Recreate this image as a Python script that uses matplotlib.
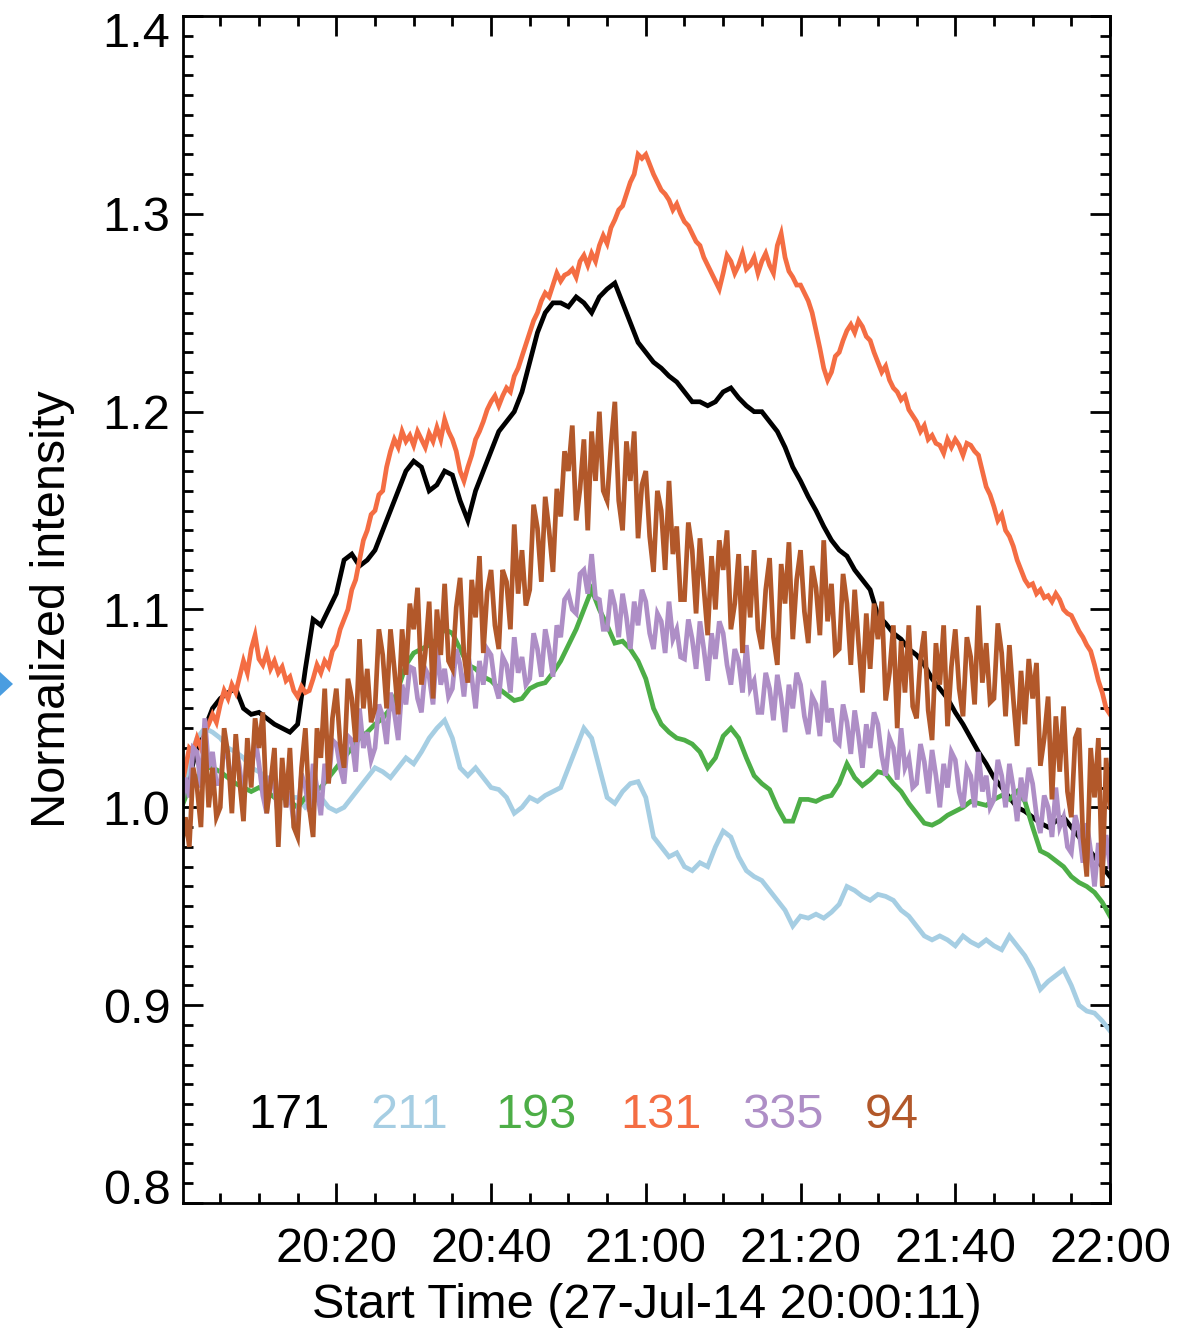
import numpy as np
import matplotlib
matplotlib.use("Agg")
import matplotlib.pyplot as plt
from matplotlib.ticker import MultipleLocator, FixedLocator, FormatStrFormatter
from matplotlib.patches import Polygon
from matplotlib.transforms import ScaledTranslation

plt.rcParams['font.family'] = ['Liberation Sans', 'DejaVu Sans']

# ---------------- data (minutes after 20:00) ----------------
t_1min = np.arange(0, 121, 1.0)
t_half = np.arange(0, 120.5, 0.5)

i171 = [1.0, 1.015, 1.03, 1.04, 1.05, 1.055, 1.058, 1.06, 1.05, 1.047, 1.048,
        1.045, 1.042, 1.04, 1.038, 1.042, 1.07, 1.095, 1.092, 1.10, 1.108,
        1.125, 1.128, 1.122, 1.125, 1.13, 1.14, 1.15, 1.16, 1.17, 1.175,
        1.172, 1.16, 1.163, 1.17, 1.168, 1.155, 1.145, 1.16, 1.17, 1.18,
        1.19, 1.195, 1.2, 1.21, 1.225, 1.24, 1.25, 1.255, 1.255, 1.253,
        1.258, 1.255, 1.25, 1.258, 1.262, 1.265, 1.255, 1.245, 1.235, 1.23,
        1.225, 1.222, 1.218, 1.215, 1.21, 1.205, 1.205, 1.203, 1.205, 1.21,
        1.212, 1.207, 1.203, 1.2, 1.2, 1.195, 1.19, 1.182, 1.172, 1.165,
        1.157, 1.15, 1.142, 1.135, 1.13, 1.127, 1.12, 1.115, 1.11, 1.097,
        1.093, 1.088, 1.085, 1.08, 1.077, 1.072, 1.065, 1.06, 1.055, 1.048,
        1.042, 1.035, 1.028, 1.022, 1.015, 1.01, 1.005, 1.0, 0.998, 0.995,
        0.992, 0.99, 0.993, 0.995, 0.99, 0.985, 0.98, 0.975, 0.97, 0.965]

i211 = [1.0, 1.025, 1.035, 1.04, 1.038, 1.035, 1.03, 1.028, 1.025, 1.02, 1.018,
        1.015, 1.01, 1.008, 1.005, 1.005, 1.0, 1.003, 1.005, 1.0, 0.998,
        1.0, 1.005, 1.01, 1.015, 1.02, 1.018, 1.015, 1.02, 1.025, 1.022,
        1.028, 1.035, 1.04, 1.044, 1.035, 1.02, 1.016, 1.02, 1.015, 1.01,
        1.009, 1.005, 0.997, 1.0, 1.005, 1.003, 1.006, 1.008, 1.01, 1.02,
        1.03, 1.04, 1.035, 1.02, 1.005, 1.002, 1.008, 1.012, 1.013, 1.005,
        0.985, 0.98, 0.975, 0.977, 0.97, 0.968, 0.972, 0.97, 0.98, 0.988,
        0.985, 0.975, 0.968, 0.965, 0.963, 0.958, 0.953, 0.948, 0.94, 0.945,
        0.944, 0.946, 0.944, 0.947, 0.951, 0.96, 0.958, 0.955, 0.953, 0.956,
        0.955, 0.953, 0.948, 0.945, 0.94, 0.935, 0.933, 0.935, 0.933, 0.93,
        0.935, 0.932, 0.93, 0.933, 0.93, 0.928, 0.935, 0.93, 0.925, 0.918,
        0.908, 0.912, 0.915, 0.918, 0.91, 0.9, 0.897, 0.896, 0.892, 0.887]

i193 = [1.0, 1.01, 1.015, 1.02, 1.02, 1.018, 1.015, 1.012, 1.01, 1.008, 1.01,
        1.008, 1.005, 1.005, 1.003, 1.0, 1.005, 1.008, 1.01, 1.015, 1.02,
        1.025, 1.03, 1.035, 1.038, 1.042, 1.045, 1.05, 1.06, 1.072, 1.078,
        1.08, 1.082, 1.085, 1.09, 1.088, 1.08, 1.072, 1.07, 1.066, 1.064,
        1.06, 1.057, 1.054, 1.055, 1.06, 1.062, 1.063, 1.068, 1.074, 1.082,
        1.09, 1.1, 1.11, 1.1, 1.092, 1.083, 1.084, 1.08, 1.074, 1.065,
        1.05, 1.042, 1.038, 1.035, 1.034, 1.032, 1.028, 1.02, 1.025, 1.036,
        1.04, 1.035, 1.025, 1.016, 1.012, 1.009, 1.0, 0.993, 0.993, 1.004,
        1.004, 1.003, 1.005, 1.006, 1.012, 1.022, 1.015, 1.011, 1.014, 1.018,
        1.017, 1.012, 1.008, 1.002, 0.997, 0.992, 0.991, 0.993, 0.996, 0.998,
        1.0, 1.003, 1.002, 1.001, 1.004, 1.006, 1.004, 1.008, 1.003, 0.99,
        0.978, 0.976, 0.973, 0.97, 0.965, 0.962, 0.96, 0.957, 0.952, 0.945]

i131 = [1.01, 1.02, 1.03, 1.028, 1.035, 1.03, 1.038, 1.042, 1.047, 1.043,
        1.052, 1.059, 1.055, 1.062, 1.058, 1.066, 1.074, 1.068, 1.08, 1.087,
        1.075, 1.072, 1.078, 1.07, 1.074, 1.068, 1.071, 1.064, 1.066, 1.059,
        1.056, 1.061, 1.058, 1.059, 1.065, 1.072, 1.068, 1.074, 1.071, 1.079,
        1.082, 1.09, 1.095, 1.1, 1.11, 1.115, 1.125, 1.135, 1.14, 1.148,
        1.15, 1.158, 1.16, 1.172, 1.18, 1.186, 1.182, 1.19, 1.185, 1.188,
        1.183, 1.19, 1.186, 1.182, 1.189, 1.185, 1.192, 1.186, 1.196, 1.19,
        1.186, 1.18, 1.17, 1.165, 1.172, 1.178, 1.186, 1.19, 1.195, 1.201,
        1.205, 1.208, 1.203, 1.208, 1.212, 1.21, 1.218, 1.222, 1.228, 1.234,
        1.24, 1.246, 1.25, 1.256, 1.26, 1.258, 1.264, 1.27, 1.266, 1.269,
        1.27, 1.272, 1.268, 1.276, 1.279, 1.274, 1.28, 1.276, 1.284, 1.289,
        1.285, 1.293, 1.297, 1.302, 1.304, 1.31, 1.316, 1.32, 1.33, 1.328,
        1.33, 1.325, 1.32, 1.316, 1.312, 1.31, 1.307, 1.302, 1.305, 1.3,
        1.296, 1.294, 1.29, 1.286, 1.284, 1.278, 1.274, 1.27, 1.266, 1.262,
        1.27, 1.279, 1.276, 1.27, 1.274, 1.28, 1.272, 1.274, 1.278, 1.27,
        1.276, 1.28, 1.274, 1.27, 1.284, 1.29, 1.278, 1.271, 1.268, 1.264,
        1.264, 1.26, 1.256, 1.25, 1.241, 1.232, 1.222, 1.216, 1.22, 1.228,
        1.23, 1.236, 1.241, 1.244, 1.24, 1.246, 1.243, 1.238, 1.236, 1.23,
        1.225, 1.22, 1.223, 1.216, 1.212, 1.21, 1.206, 1.208, 1.201, 1.198,
        1.195, 1.19, 1.193, 1.186, 1.188, 1.184, 1.183, 1.179, 1.186, 1.182,
        1.186, 1.183, 1.178, 1.184, 1.183, 1.18, 1.178, 1.17, 1.162, 1.158,
        1.152, 1.145, 1.148, 1.14, 1.137, 1.132, 1.125, 1.12, 1.115, 1.112,
        1.113, 1.108, 1.11, 1.106, 1.107, 1.104, 1.108, 1.105, 1.1, 1.098,
        1.097, 1.093, 1.089, 1.086, 1.082, 1.079, 1.072, 1.064, 1.058, 1.05,
        1.047]

i335 = [1.0, 1.015, 1.005, 1.03, 1.028, 1.01, 1.045, 1.02, 1.028, 1.012,
        1.012, 1.032, 1.024, 1.008, 1.032, 1.02, 1.004, 1.028, 1.016, 1.036,
        1.022, 1.006, 0.997, 1.016, 1.01, 0.995, 1.02, 1.0, 1.008, 0.992,
        0.995, 1.017, 1.01, 0.998, 1.022, 1.01, 0.996, 1.022, 1.013, 1.034,
        1.032, 1.02, 1.012, 1.036, 1.034, 1.018, 1.05, 1.03, 1.038, 1.024,
        1.03, 1.052, 1.046, 1.032, 1.058, 1.048, 1.034, 1.062, 1.052, 1.071,
        1.07, 1.055, 1.048, 1.07, 1.066, 1.052, 1.082, 1.062, 1.07, 1.056,
        1.06, 1.08, 1.072, 1.056, 1.078, 1.066, 1.05, 1.074, 1.062, 1.08,
        1.077, 1.062, 1.055, 1.076, 1.072, 1.058, 1.086, 1.068, 1.076, 1.062,
        1.065, 1.088, 1.08, 1.066, 1.09, 1.08, 1.066, 1.092, 1.086, 1.105,
        1.108, 1.1, 1.098, 1.118, 1.12, 1.108, 1.128, 1.106, 1.105, 1.09,
        1.09, 1.11, 1.102, 1.086, 1.108, 1.096, 1.08, 1.104, 1.092, 1.11,
        1.104, 1.088, 1.08, 1.098, 1.094, 1.078, 1.104, 1.085, 1.09, 1.076,
        1.075, 1.095, 1.085, 1.07, 1.094, 1.08, 1.064, 1.088, 1.075, 1.094,
        1.088, 1.072, 1.062, 1.08, 1.074, 1.058, 1.082, 1.06, 1.064, 1.048,
        1.048, 1.068, 1.06, 1.044, 1.067, 1.055, 1.038, 1.062, 1.05, 1.068,
        1.062, 1.046, 1.037, 1.056, 1.052, 1.036, 1.064, 1.043, 1.05, 1.034,
        1.032, 1.052, 1.043, 1.027, 1.049, 1.036, 1.02, 1.042, 1.03, 1.048,
        1.042, 1.026, 1.016, 1.035, 1.03, 1.014, 1.04, 1.02, 1.025, 1.01,
        1.012, 1.032, 1.023, 1.007, 1.029, 1.016, 1.0, 1.022, 1.01, 1.028,
        1.024, 1.008, 1.0, 1.02, 1.016, 1.0, 1.028, 1.008, 1.016, 1.0,
        1.004, 1.024, 1.016, 1.0, 1.022, 1.01, 0.993, 1.015, 1.003, 1.02,
        1.012, 0.996, 0.987, 1.006, 1.0, 0.985, 1.01, 0.99, 0.995, 0.98,
        0.977, 0.996, 0.988, 0.972, 0.992, 0.978, 0.96, 0.982, 0.97, 0.986,
        0.97]

i94 = [0.98, 0.995, 0.98, 1.02, 1.01, 0.99, 1.04, 1.0, 1.02, 0.995,
       1.0, 1.04, 1.027, 0.997, 1.037, 1.013, 0.993, 1.035, 1.01, 1.045,
       1.03, 1.048, 0.997, 1.012, 1.03, 0.98, 1.025, 1.0, 1.03, 0.99,
       0.985, 1.02, 1.04, 1.0, 0.985, 1.04, 1.025, 1.06, 1.012, 1.045,
       1.06, 1.032, 1.02, 1.065, 1.055, 1.033, 1.085, 1.05, 1.07, 1.043,
       1.05, 1.09, 1.077, 1.05, 1.09, 1.07, 1.047, 1.09, 1.067, 1.103,
       1.09, 1.111, 1.062, 1.078, 1.104, 1.055, 1.1, 1.077, 1.113, 1.074,
       1.07, 1.101, 1.116, 1.077, 1.063, 1.115, 1.096, 1.127, 1.078, 1.109,
       1.12, 1.092, 1.08, 1.12, 1.114, 1.09, 1.143, 1.108, 1.13, 1.102,
       1.11, 1.153, 1.141, 1.114, 1.157, 1.14, 1.119, 1.161, 1.147, 1.18,
       1.17, 1.193, 1.145, 1.161, 1.186, 1.14, 1.19, 1.165, 1.2, 1.16,
       1.155, 1.183, 1.205, 1.155, 1.14, 1.185, 1.165, 1.19, 1.136, 1.163,
       1.17, 1.137, 1.119, 1.16, 1.15, 1.12, 1.165, 1.128, 1.142, 1.105,
       1.105, 1.144, 1.13, 1.098, 1.136, 1.111, 1.087, 1.127, 1.1, 1.135,
       1.12, 1.14, 1.09, 1.103, 1.128, 1.078, 1.122, 1.096, 1.13, 1.09,
       1.08, 1.11, 1.126, 1.086, 1.072, 1.123, 1.103, 1.134, 1.085, 1.115,
       1.13, 1.099, 1.083, 1.122, 1.111, 1.087, 1.135, 1.094, 1.113, 1.078,
       1.08, 1.118, 1.103, 1.072, 1.11, 1.083, 1.058, 1.098, 1.07, 1.103,
       1.085, 1.104, 1.054, 1.068, 1.092, 1.04, 1.084, 1.058, 1.092, 1.051,
       1.045, 1.075, 1.089, 1.049, 1.034, 1.083, 1.062, 1.092, 1.041, 1.071,
       1.09, 1.06, 1.046, 1.086, 1.076, 1.052, 1.102, 1.063, 1.083, 1.053,
       1.055, 1.093, 1.078, 1.046, 1.082, 1.055, 1.031, 1.069, 1.042, 1.075,
       1.055, 1.073, 1.021, 1.035, 1.056, 1.004, 1.046, 1.018, 1.051, 1.008,
       0.995, 1.035, 1.04, 0.985, 0.965, 1.03, 1.005, 1.035, 0.96, 1.025,
       1.0]

tick_pos = [20, 40, 60, 80, 100, 120]
tick_labels = ['20:20', '20:40', '21:00', '21:20', '21:40', '22:00']
channels = ['171', '211', '193', '131', '335', '94']
colors = ['#000000', '#a6cee3', '#4dae47', '#f46d43', '#ae8ec6', '#b2582a']

# ---------------- figure ----------------
W, H = 1204, 1328
fig = plt.figure(figsize=(W / 100, H / 100), dpi=100)
L, R, T, B = 183, 1110, 16, 1203
ax = fig.add_axes([L / W, 1 - B / H, (R - L) / W, (B - T) / H])

series = [(t_1min, i171), (t_1min, i211), (t_1min, i193),
          (t_half, i131), (t_half, i335), (t_half, i94)]
for (tt, yy), c in zip(series, colors):
    ax.plot(tt, yy, color=c, lw=3.4, solid_joinstyle='miter')

ax.set_xlim(11 / 60, 120)
ax.set_ylim(0.8, 1.4)

ax.xaxis.set_major_locator(FixedLocator(tick_pos))
ax.set_xticklabels(tick_labels)
ax.xaxis.set_minor_locator(MultipleLocator(5))
ax.yaxis.set_major_locator(FixedLocator([0.8, 0.9, 1.0, 1.1, 1.2, 1.3, 1.4]))
ax.yaxis.set_major_formatter(FormatStrFormatter('%.1f'))
ax.yaxis.set_minor_locator(MultipleLocator(0.01))

ax.tick_params(which='both', direction='in', top=True, right=True,
               width=2.0, colors='black', labelsize=35)
ax.tick_params(which='major', length=14.5)
ax.tick_params(which='minor', length=7.2)
ax.tick_params(axis='y', pad=9)
ax.tick_params(axis='x', pad=17)
for s in ax.spines.values():
    s.set_linewidth(2.0)

# first and last y labels are nudged inside the figure, as in the original
ylabels = ax.get_yticklabels()
ylabels[0].set_transform(ylabels[0].get_transform() + ScaledTranslation(0, 0.17, fig.dpi_scale_trans))
ylabels[-1].set_transform(ylabels[-1].get_transform() + ScaledTranslation(0, -0.13, fig.dpi_scale_trans))

ax.set_xlabel('Start Time (27-Jul-14 20:00:11)', fontsize=35, labelpad=8)
ax.set_ylabel('Normalized intensity', fontsize=35, labelpad=20)

label_x = [8.65, 24.4, 40.6, 56.7, 72.5, 88.3]
for lx, ch, c in zip(label_x, channels, colors):
    ax.text(lx, 0.8378, ch, color=c, fontsize=35, ha='left', va='baseline')

# small blue arrow fragment at the left margin
fig.patches.append(Polygon([[0 / W, 1 - 672 / H], [0 / W, 1 - 696 / H], [13 / W, 1 - 684 / H]],
                           closed=True, transform=fig.transFigure,
                           facecolor='#4a9de0', edgecolor='none'))

fig.savefig('out.png', dpi=100)
